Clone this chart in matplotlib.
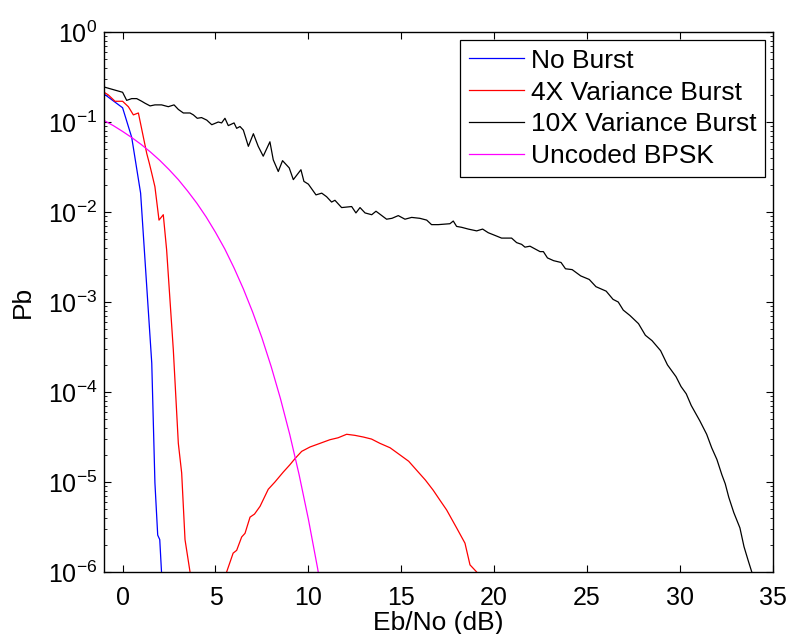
import matplotlib
matplotlib.use('Agg')
import matplotlib.pyplot as plt
import numpy as np

plt.rcParams['font.family'] = ['Liberation Sans', 'DejaVu Sans']
plt.rcParams['mathtext.default'] = 'regular'

# No Burst
x_none = [-1, 0, 0.49, 0.97, 1.17, 1.57, 1.74, 1.89, 2.0, 2.2]
pb_none = [0.205, 0.144, 0.0676, 0.0162, 0.0038, 2.09e-4, 9.8e-6, 2.57e-6, 2.29e-6, 4e-7]

# 4X Variance Burst
x_4x = [-1, -0.77, -0.41, 0.0, 0.31, 0.58, 0.85, 1.12, 1.3, 1.44, 1.57, 1.74, 1.96,
        2.19, 2.37, 2.73, 3.0, 3.18, 3.36, 3.63, 4.5,
        5.6, 5.95, 6.14, 6.41, 6.59, 6.86, 7.1, 7.4, 7.84, 8.2, 8.65, 9.0, 9.28, 9.64,
        10.09, 10.63, 11.16, 11.6, 12.06, 12.5, 12.96, 13.4, 13.85, 14.4, 14.93,
        15.4, 15.83, 16.3, 16.72, 17.1, 17.44, 17.98, 18.43, 18.7, 19.06, 19.4]
pb_4x = [0.214, 0.2, 0.170, 0.170, 0.148, 0.120, 0.126, 0.0676, 0.0447, 0.0347, 0.0269,
         0.0191, 0.00813, 0.00933, 0.0038, 2.95e-4, 2.69e-5, 1.26e-5, 2.29e-6, 1.0e-6, 1e-8,
         1.0e-6, 1.62e-6, 1.74e-6, 2.45e-6, 2.69e-6, 4.07e-6, 4.4e-6, 5.37e-6, 8.3e-6,
         1.0e-5, 1.29e-5, 1.55e-5, 1.82e-5, 2.19e-5, 2.45e-5, 2.69e-5, 2.95e-5, 3.1e-5,
         3.39e-5, 3.3e-5, 3.16e-5, 3.0e-5, 2.69e-5, 2.4e-5, 2.0e-5, 1.7e-5, 1.35e-5,
         1.05e-5, 8.1e-6, 6.2e-6, 4.9e-6, 3.09e-6, 2.09e-6, 1.2e-6, 1.0e-6, 5e-7]

# 10X Variance Burst
x_10x = [-1, 0.0, 0.22, 0.49, 0.76, 1.03, 1.2, 1.48, 1.74, 2.1, 2.46, 2.77, 3.0, 3.27,
         3.63, 3.81, 4.02, 4.25, 4.53, 4.8, 5.15, 5.33, 5.51, 5.69, 6.0, 6.14, 6.32, 6.5,
         6.77, 7.04, 7.3, 7.57, 7.93, 8.11, 8.38, 8.61, 8.97, 9.19, 9.6, 9.76, 10.0,
         10.41, 10.72, 10.98, 11.25, 11.43, 11.79, 12.33, 12.56, 12.78, 13.05, 13.41,
         13.64, 13.89, 14.21, 14.5, 14.84, 15.2, 15.56, 16.0, 16.37, 16.63, 16.99,
         17.62, 17.8, 17.98, 18.25, 18.61, 19.06, 19.38, 19.68, 20.04, 20.4, 20.94,
         21.21, 21.48, 21.66, 21.93, 22.2, 22.47, 22.65, 22.87, 23.2, 23.6, 23.84,
         24.2, 24.66, 25.12, 25.48, 26.03, 26.4, 26.68, 26.95, 27.31, 27.77, 28.14,
         28.5, 28.96, 29.33, 29.79, 30.06, 30.34, 30.61, 31.07, 31.44, 31.71, 31.99,
         32.26, 32.44, 32.63, 32.9, 33.23, 33.45, 33.67, 33.96, 34.2]
pb_10x = [0.245, 0.214, 0.174, 0.182, 0.182, 0.170, 0.162, 0.151, 0.155, 0.155, 0.148,
          0.155, 0.138, 0.126, 0.126, 0.120, 0.110, 0.112, 0.105, 0.0933, 0.100, 0.0977,
          0.110, 0.0912, 0.0977, 0.0851, 0.0891, 0.0813, 0.0537, 0.0741, 0.0537, 0.0417,
          0.0603, 0.0380, 0.0282, 0.0372, 0.0309, 0.0229, 0.0295, 0.0219, 0.0204, 0.0155,
          0.0162, 0.0148, 0.0129, 0.0135, 0.0112, 0.0115, 0.00977, 0.0112, 0.00977,
          0.00933, 0.0102, 0.00933, 0.00832, 0.00851, 0.00912, 0.00832, 0.00871, 0.00851,
          0.00813, 0.00724, 0.00724, 0.00741, 0.00794, 0.00692, 0.00676, 0.00646, 0.00617,
          0.00646, 0.00589, 0.00550, 0.00513, 0.00513, 0.00457, 0.00437, 0.00407, 0.00417,
          0.00389, 0.00363, 0.00363, 0.00309, 0.00288, 0.00275, 0.00234, 0.00229, 0.00195,
          0.00178, 0.00148, 0.00132, 0.00107, 0.00100, 8.13e-4, 7.08e-4, 5.75e-4, 4.27e-4,
          3.72e-4, 2.88e-4, 2.0e-4, 1.48e-4, 1.15e-4, 9.55e-5, 7.08e-5, 4.79e-5, 3.39e-5,
          2.40e-5, 1.78e-5, 1.20e-5, 9.55e-6, 6.76e-6, 4.57e-6, 3.09e-6, 1.91e-6, 1.35e-6,
          8.7e-7, 5e-7]

# Uncoded BPSK
x_bpsk = [-1, -0.5, 0, 0.5, 1, 1.5, 2, 2.5, 3, 3.5, 4, 4.5, 5, 5.5, 6, 6.5, 7, 7.5,
          8, 8.5, 9, 9.5, 10, 10.5, 11]
pb_bpsk = [0.104, 0.0912, 0.0786, 0.0670, 0.0563, 0.0464, 0.0375, 0.0296, 0.0229,
           0.0171, 0.0125, 0.0088, 0.00595, 0.00389, 0.00239, 0.00140, 7.73e-4, 4.0e-4,
           1.91e-4, 8.4e-5, 3.36e-5, 1.21e-5, 3.87e-6, 1.09e-6, 2.6e-7]

fig = plt.figure(figsize=(7.91, 6.34), dpi=100)
ax = fig.add_axes([0.1315, 0.0978, 0.8455, 0.8517])

ax.semilogy(x_none, pb_none, color='#0000ff', lw=0.9, label='No Burst')
ax.semilogy(x_4x, pb_4x, color='#ff0000', lw=0.9, label='4X Variance Burst')
ax.semilogy(x_10x, pb_10x, color='black', lw=0.9, label='10X Variance Burst')
ax.semilogy(x_bpsk, pb_bpsk, color='#ff00ff', lw=0.9, label='Uncoded BPSK')

ax.set_xlim(-1, 35)
ax.set_ylim(1e-6, 1)
ax.set_xticks([0, 5, 10, 15, 20, 25, 30, 35])
ax.set_yticks([1e-6, 1e-5, 1e-4, 1e-3, 1e-2, 1e-1, 1])

ax.tick_params(which='both', direction='in', top=True, right=True)
ax.tick_params(which='major', length=5, width=0.8)
ax.tick_params(which='minor', length=2.5, width=0.6)
ax.tick_params(axis='x', pad=10, labelsize=18)
ax.tick_params(axis='y', pad=5, labelsize=18)
for s in ax.spines.values():
    s.set_linewidth(1.0)

ax.set_xlabel('Eb/No (dB)', fontsize=19, labelpad=1)
ax.set_ylabel('Pb', fontsize=19, labelpad=9)

leg = ax.legend(loc='upper right', fontsize=19, fancybox=False, framealpha=1,
                edgecolor='black', borderaxespad=0.3, handlelength=2.1,
                handletextpad=0.23, labelspacing=0.3, borderpad=0.33)
leg.get_frame().set_linewidth(0.9)

fig.savefig('out.png', dpi=100)
